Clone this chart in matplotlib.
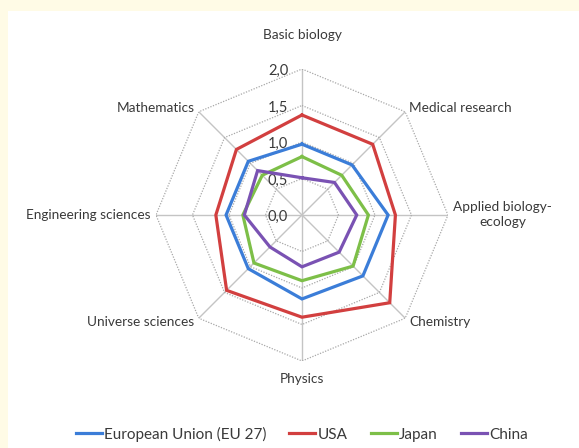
import numpy as np
import matplotlib
from matplotlib import pyplot as plt
import matplotlib.patches as patches

matplotlib.use("Agg")

categories = [
    "Basic biology",
    "Medical research",
    "Applied biology-\necology",
    "Chemistry",
    "Physics",
    "Universe sciences",
    "Engineering sciences",
    "Mathematics",
]
tick_values = [0.0, 0.5, 1.0, 1.5, 2.0]
tick_labels = ["0,0", "0,5", "1,0", "1,5", "2,0"]

series_names = ["European Union (EU 27)", "USA", "Japan", "China"]
eu = [0.97, 0.97, 1.18, 1.18, 1.15, 1.04, 1.04, 1.04]
usa = [1.37, 1.37, 1.28, 1.70, 1.40, 1.46, 1.18, 1.27]
japan = [0.80, 0.77, 0.91, 0.99, 0.90, 0.93, 0.81, 0.77]
china = [0.51, 0.63, 0.75, 0.72, 0.71, 0.62, 0.79, 0.86]
series_colors = ["#3b7dd8", "#d23f3f", "#7dbf48", "#7a52b3"]

plt.rcParams["font.family"] = ["Lato", "DejaVu Sans"]
TEXT_COLOR = "#3a3a3a"

fig = plt.figure(figsize=(5.79, 4.48), dpi=100, facecolor="#fffbe6")
# white panel inside the cream frame
fig.add_artist(
    patches.Rectangle(
        (8 / 579, 0), 1 - 8 / 579, 1 - 11 / 448,
        transform=fig.transFigure, facecolor="white", edgecolor="none",
        zorder=-10,
    )
)

ax = fig.add_axes([0.2694, 0.1942, 0.5043, 0.6518], projection="polar")
ax.set_facecolor("none")
ax.set_theta_offset(np.pi / 2)
ax.set_theta_direction(-1)
ax.set_ylim(0, 2.0)
ax.grid(False)
ax.spines["polar"].set_visible(False)
ax.set_xticks([])
ax.set_yticks([])

n = len(categories)
theta = np.arange(n) * 2 * np.pi / n
theta_closed = np.append(theta, theta[0])

# spokes
for t in theta:
    ax.plot([t, t], [0, tick_values[-1]], color="#c4c4c4", lw=1.0, zorder=1)

# octagon rings
for r in tick_values[1:]:
    ax.plot(theta_closed, [r] * (n + 1), color="#a8a8a8", lw=0.9,
            ls=(0, (1, 1.2)), zorder=1)

# radial tick labels
for v, lab in zip(tick_values, tick_labels):
    ax.annotate(lab, xy=(0, v), xytext=(-10, -1.5), textcoords="offset points",
                ha="right", va="center", fontsize=10.5, color=TEXT_COLOR)

# data
handles = []
for name, vals, col in zip(series_names, [eu, usa, japan, china], series_colors):
    (ln,) = ax.plot(theta_closed, list(vals) + [vals[0]], color=col, lw=2.3,
                    solid_joinstyle="miter", zorder=3, label=name)
    handles.append(ln)

# category labels
label_pos = [
    (2.47, "center", "center"),
    (2.08, "left", "center"),
    (2.07, "left", "center"),
    (2.08, "left", "center"),
    (2.24, "center", "center"),
    (2.08, "right", "center"),
    (2.07, "right", "center"),
    (2.08, "right", "center"),
]
for t, cat, (r, ha, va) in zip(theta, categories, label_pos):
    ax.text(t, r, cat, ha=ha, va=va, fontsize=9.8, color=TEXT_COLOR,
            multialignment="center", linespacing=1.3)

fig.legend(
    handles=handles, labels=series_names, loc="center",
    bbox_to_anchor=(0.521, 0.031), ncol=4, frameon=False,
    fontsize=11, handlelength=1.7, handletextpad=0.15, columnspacing=1.5,
    labelcolor=TEXT_COLOR,
)

fig.savefig("out.png", dpi=100, facecolor=fig.get_facecolor())
